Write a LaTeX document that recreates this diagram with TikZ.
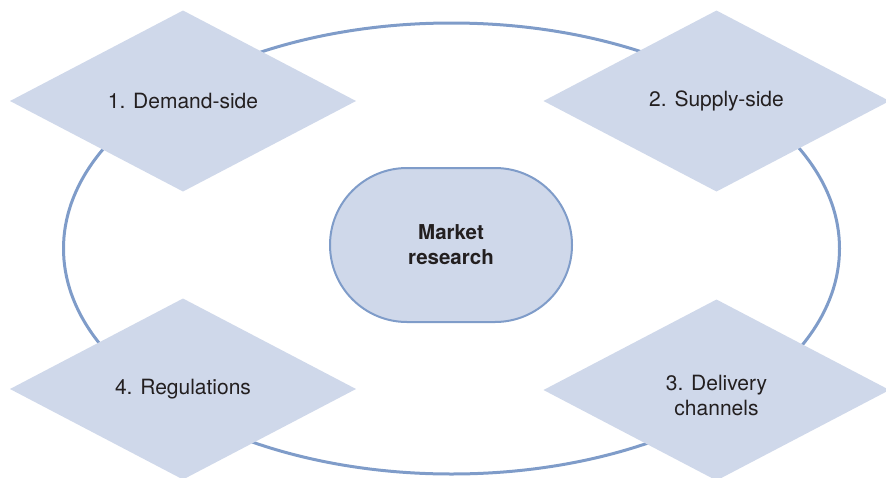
\documentclass[tikz,border=0pt]{standalone}
\usepackage{fontspec}
\setmainfont{TeX Gyre Heros}
\usetikzlibrary{shapes.geometric,calc}
\definecolor{boxfill}{HTML}{CFD8EA}
\definecolor{linecol}{HTML}{7F9CC9}
\definecolor{txtcol}{HTML}{231F20}
\tikzset{
  diam/.style={diamond, fill=boxfill, draw=none, inner sep=0pt, outer sep=0pt,
    minimum width=346pt, minimum height=181pt},
  lbl/.style={text=txtcol, align=center, inner sep=0pt,
    font=\fontsize{21}{25}\selectfont},
  hub/.style={draw=linecol, line width=2pt, fill=boxfill, rounded corners=77pt,
    minimum width=242pt, minimum height=154pt, inner sep=0pt, text=txtcol,
    align=center, font=\fontsize{20.5}{25}\selectfont\bfseries},
  ring/.style={draw=linecol, line width=3pt}
}
\begin{document}
\begin{tikzpicture}[x=1pt,y=-1pt]
\useasboundingbox (0,0) rectangle (886,477);
\draw[ring] (451.5,248.5) ellipse [x radius=388, y radius=225.5];
\node[diam] (d1) at (183,101) {};
\node[diam] (d2) at (716.5,101) {};
\node[diam] (d3) at (716.5,390) {};
\node[diam] (d4) at (183,389) {};
\node[lbl] (t1) at ($(d1.center)+(0,-0.5)$) {1. Demand-side};
\node[lbl] (t2) at (d2.center) {2. Supply-side};
\node[lbl] (t3) at ($(d3.center)+(0,5)$) {3. Delivery\\channels};
\node[lbl] (t4) at (d4.center) {4. Regulations};
\node[hub] (mr) at (451,245) {Market\\research};
\end{tikzpicture}
\end{document}
